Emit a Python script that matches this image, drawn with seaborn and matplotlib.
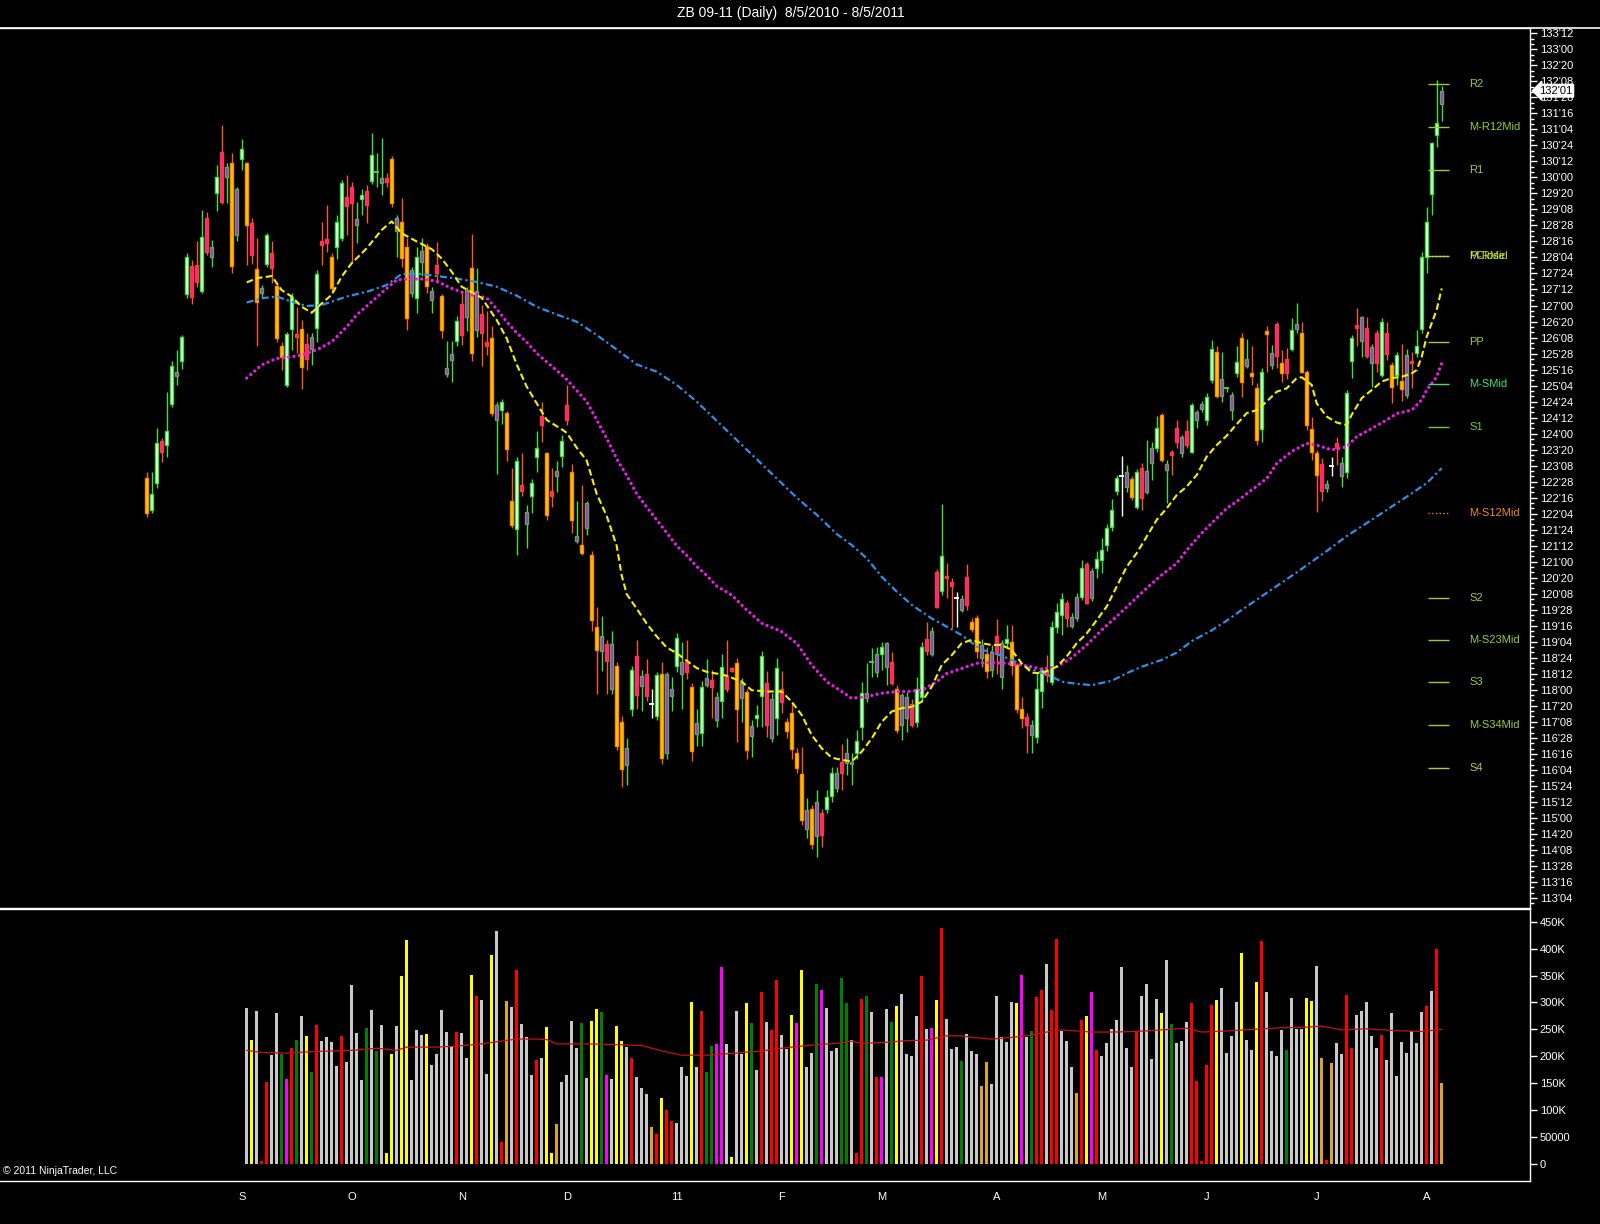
import matplotlib
matplotlib.use("Agg")
import matplotlib.pyplot as plt
import matplotlib.transforms as mtransforms
from matplotlib.lines import Line2D
import numpy as np
import pandas as pd
import seaborn as sns

# ---------------- data ----------------
title = "ZB 09-11 (Daily)  8/5/2010 - 8/5/2011"

opens = [
    122.95,122.20,122.84,123.83,123.73,124.69,125.35,125.71,127.27,127.93,
    127.95,127.35,129.04,128.13,129.63,130.60,130.00,130.33,128.64,130.42,
    130.33,128.93,127.85,127.30,127.97,128.24,127.46,126.04,125.15,126.44,
    126.34,126.44,126.10,125.97,126.47,128.50,128.55,128.13,128.36,128.57,
    129.53,129.78,128.89,129.49,129.69,129.92,130.10,129.86,129.98,130.42,
    128.75,128.96,128.36,127.29,127.17,128.03,128.39,127.13,127.95,127.23,
    125.40,125.73,126.16,127.03,126.73,127.88,126.42,126.79,126.14,126.23,
    124.32,124.56,124.49,122.43,121.76,122.80,121.89,122.54,123.45,124.41,
    123.54,122.65,123.00,123.48,124.68,123.10,121.48,121.39,121.79,121.15,
    119.46,118.90,119.07,118.03,118.55,117.25,116.25,117.55,118.79,118.09,
    118.38,117.64,117.38,118.38,116.51,117.86,118.55,118.38,118.64,118.07,
    116.96,116.99,118.12,118.23,117.29,117.74,118.33,118.49,118.62,117.80,
    117.94,116.92,117.35,117.86,118.17,116.88,117.35,118.03,117.24,117.45,
    116.51,116.02,114.75,115.21,114.58,115.11,115.22,115.52,115.71,116.32,
    116.28,116.26,116.51,117.14,117.80,118.65,118.42,118.83,118.54,118.66,
    118.02,117.17,117.33,117.66,117.25,117.84,119.20,118.83,120.77,120.31,
    120.65,120.52,120.14,119.87,120.65,119.59,119.69,118.75,118.85,118.46,
    119.27,118.31,119.09,119.13,118.58,117.54,117.37,116.94,116.89,117.98,
    118.45,118.19,119.46,119.75,120.04,119.50,119.67,120.17,120.95,120.14,
    120.85,121.04,121.39,121.81,122.66,122.99,122.74,122.93,122.29,123.19,
    122.64,123.32,123.66,124.44,123.15,123.56,124.12,123.55,124.05,123.58,
    124.33,124.57,124.33,125.26,125.90,124.89,125.05,124.55,125.43,126.23,
    125.58,125.43,125.06,124.10,126.37,125.61,126.57,125.65,125.74,125.97,
    126.44,126.35,125.45,124.10,123.54,123.29,122.72,123.22,123.77,123.00,
    123.11,125.69,126.54,126.18,126.47,125.65,126.36,125.37,126.36,125.61,
    125.37,125.24,124.90,125.71,125.89,126.44,128.14,129.61,130.99,131.72,
]
highs = [
    123.11,123.11,124.12,123.89,124.98,125.69,125.96,126.31,128.22,128.07,
    128.50,129.24,129.20,128.53,130.29,131.23,130.33,130.56,129.78,130.89,
    130.37,129.04,128.57,127.48,128.69,128.50,127.52,126.15,126.39,127.29,
    126.97,126.66,126.35,126.35,127.83,128.96,129.35,128.22,129.12,129.94,
    130.06,129.90,129.43,129.74,129.82,131.05,130.56,130.92,130.10,130.49,
    129.12,129.51,128.57,127.91,128.38,128.57,128.46,127.44,128.48,127.27,
    126.18,126.18,126.75,127.35,127.44,128.67,127.88,127.01,126.88,126.53,
    124.75,124.80,124.54,123.19,123.45,123.55,122.32,122.93,124.06,124.75,
    123.58,123.19,123.37,123.97,125.14,123.28,122.41,122.80,122.41,121.24,
    119.94,119.72,119.16,119.38,118.64,117.38,116.86,118.55,119.16,118.47,
    118.73,118.03,118.42,118.64,118.42,118.29,119.33,119.12,119.16,118.16,
    117.55,118.20,118.73,118.47,117.96,118.85,119.17,118.54,118.74,118.27,
    118.03,117.29,117.64,118.91,118.44,117.92,118.74,118.44,117.33,117.72,
    116.64,116.67,115.46,115.30,115.65,115.22,115.65,116.20,116.20,116.72,
    116.86,116.53,117.06,118.19,118.62,118.97,119.01,119.13,119.13,118.89,
    118.11,117.92,117.96,117.78,118.31,119.13,119.58,119.48,120.84,122.35,
    120.96,120.61,120.30,120.22,120.94,119.69,119.75,119.20,119.01,119.05,
    119.66,119.17,119.52,119.52,118.62,117.84,117.45,117.29,118.39,118.53,
    118.82,119.60,120.03,120.26,120.10,119.79,120.26,121.04,121.00,120.85,
    121.24,121.55,121.88,122.48,123.03,123.48,123.27,123.01,123.16,123.31,
    123.84,123.81,124.41,124.49,123.38,123.62,124.32,123.97,124.32,124.71,
    124.55,124.77,124.96,126.19,126.04,125.92,125.10,124.98,126.04,126.35,
    126.21,126.04,125.18,125.53,126.52,126.08,126.62,125.96,126.00,126.70,
    127.05,126.62,125.49,124.40,123.62,123.42,122.91,123.46,123.93,123.46,
    125.01,126.31,126.93,126.75,126.74,126.10,126.43,126.70,126.62,125.68,
    125.90,126.10,125.97,125.90,126.43,128.26,129.31,130.84,132.28,132.13,
]
lows = [
    122.05,122.13,122.72,123.34,123.46,124.63,125.14,125.51,127.17,127.04,
    127.44,127.29,128.18,127.91,129.22,129.38,129.39,127.77,128.50,130.17,
    127.95,127.97,126.04,127.21,127.91,127.52,126.15,125.49,125.10,125.96,
    125.88,125.04,125.49,125.61,126.15,127.95,128.26,127.29,128.10,128.52,
    128.65,127.99,128.46,129.12,128.93,129.85,129.78,129.59,129.78,129.30,
    128.14,127.91,126.43,127.21,126.82,127.68,127.29,126.83,127.53,126.23,
    125.32,125.21,126.05,126.07,126.40,125.69,126.27,125.58,125.84,124.41,
    123.06,124.23,123.37,121.80,121.15,122.54,121.33,122.15,123.11,123.80,
    121.98,122.28,122.63,123.21,124.19,121.67,121.44,121.15,121.63,119.38,
    117.90,118.44,117.90,117.90,116.60,115.73,115.78,117.38,117.55,117.51,
    117.73,117.34,117.29,116.27,116.38,117.51,118.42,117.55,118.25,116.34,
    116.69,116.69,118.07,117.34,117.14,117.33,117.96,118.42,116.78,117.25,
    116.39,116.43,117.14,117.14,116.90,116.78,116.94,117.45,116.86,116.39,
    116.04,114.83,114.52,114.27,114.09,114.33,115.11,115.38,115.61,115.65,
    116.00,115.77,116.39,116.82,117.72,118.31,118.31,118.46,118.11,118.11,
    116.98,116.82,117.02,117.14,117.14,117.76,118.81,118.78,119.91,120.22,
    120.14,119.44,119.48,119.83,119.87,119.36,118.74,118.54,118.28,118.31,
    118.38,118.02,118.97,118.35,117.45,117.10,116.53,116.53,116.75,117.57,
    118.19,118.11,119.32,119.28,119.48,119.44,119.60,120.11,120.01,120.09,
    120.61,120.73,121.24,121.71,122.56,122.06,122.64,122.45,122.23,122.21,
    122.59,122.91,123.58,123.34,122.38,123.03,123.66,123.46,123.66,123.54,
    124.12,124.51,124.20,125.18,124.83,124.75,124.98,124.32,125.33,124.86,
    125.53,125.14,123.73,123.81,125.45,125.51,125.53,125.22,125.29,125.94,
    126.35,125.41,124.08,123.38,122.17,122.41,122.64,123.00,123.27,122.76,
    122.95,125.30,126.04,125.80,125.76,125.08,125.45,125.33,125.72,124.71,
    125.14,124.77,124.83,125.06,125.80,126.35,127.75,129.12,130.71,131.31,
]
closes = [
    122.15,122.59,123.79,123.58,124.05,125.58,125.45,126.26,128.14,127.21,
    127.56,128.60,128.26,128.38,130.00,129.43,130.25,127.93,129.72,130.66,
    128.89,128.18,127.09,127.40,128.64,127.87,126.23,125.79,126.33,127.21,
    126.27,125.55,125.74,126.26,127.74,128.42,128.46,127.40,128.96,129.88,
    129.33,129.39,129.02,129.59,129.36,130.52,130.13,129.98,129.90,129.39,
    129.04,128.11,126.70,127.82,128.13,128.28,127.46,127.35,127.75,126.42,
    125.53,125.86,126.64,126.31,127.37,125.88,127.35,126.36,126.05,124.48,
    124.67,124.75,123.63,121.85,123.35,122.65,122.17,122.85,123.67,124.21,
    122.09,122.54,123.13,123.82,124.32,121.98,121.60,121.21,122.37,119.64,
    118.93,119.27,118.67,119.07,116.69,116.15,116.64,118.47,117.88,118.32,
    117.86,117.67,118.35,116.41,118.38,118.03,119.22,118.64,118.42,116.56,
    117.22,118.06,118.27,118.07,117.84,118.54,118.02,118.44,117.55,118.15,
    116.59,117.16,117.42,118.80,117.17,117.78,118.52,117.71,117.04,116.61,
    116.16,114.95,115.18,114.40,115.38,114.60,115.49,116.04,116.06,116.04,
    116.53,116.32,116.80,117.92,117.92,118.66,118.83,119.01,119.09,118.15,
    117.06,117.88,117.84,117.17,118.02,119.01,118.91,119.38,119.95,121.14,
    120.61,120.42,120.15,120.13,119.99,119.42,118.91,119.05,118.44,118.88,
    118.85,119.09,119.19,118.58,117.54,117.33,117.18,117.18,118.01,118.46,
    118.35,119.48,119.83,120.12,119.67,119.70,120.17,120.85,120.04,120.79,
    121.06,121.27,121.78,122.21,122.95,123.00,123.09,122.52,123.09,122.49,
    123.13,123.66,124.12,123.38,123.29,123.50,123.81,123.93,123.73,124.67,
    124.51,124.69,124.85,125.97,124.87,125.27,125.06,124.90,125.68,125.22,
    125.74,125.35,123.84,125.45,126.34,125.88,125.82,125.41,125.41,126.43,
    126.57,125.45,124.20,123.58,123.03,122.66,122.82,123.23,123.66,123.30,
    124.96,126.23,126.47,126.72,125.82,126.02,125.65,126.62,125.86,125.08,
    125.84,125.04,125.84,125.65,126.05,128.14,128.96,130.80,131.28,132.03,
]
# candle kind: W white-up, P purple-up, Y gold-down, M magenta-down, X white doji, G green doji
candle_kinds = (
    "YWWMWWPWWM" "MWMPWMPYPW" "YMYPWMYYWW" "MYMPWMMYWW" "MMPWMWGPMY"
    "PYYPWPYPMY" "PPWMPYPMMY" "PWYYWMPWWM" "YMPWMYPYPY" "YPMPYYPWMP"
    "MXWYPPWPMY" "PWPMPWMMYP" "YPWWMPWMYY" "YYPYPMWWPM" "PPWWPGPWPM"
    "YPPMWWMPMW" "MMXPMYYPYP" "MPWYYYMPWW" "MWWWMPPWMP" "WWWWWXPYWM"
    "PPWYPMMPMW" "PPWWYPGPWY" "PYYWYPMYMW" "PYYYYMPXMP" "WWMPMPMWMY"
    "WYPMWWWWWP"
)

# volume (thousands of contracts) from bar 20 onward
volume_start = 20
volumes_k = [
    289,230,284,6,153,202,281,204,158,215,
    230,275,238,171,258,228,236,227,182,238,
    190,332,244,156,252,286,209,258,21,205,
    256,349,416,156,249,240,242,184,205,286,
    246,220,246,243,197,351,312,305,167,388,
    433,41,303,292,360,260,236,165,193,196,
    254,20,74,153,165,266,216,262,159,266,
    288,282,165,157,256,228,217,196,162,142,
    130,69,56,123,101,80,76,181,163,301,
    181,284,171,219,223,365,223,13,284,205,
    299,261,175,319,264,249,342,240,214,277,
    262,360,180,206,334,323,290,209,215,346,
    299,230,21,306,312,282,162,162,288,264,
    294,316,205,201,275,349,251,253,305,438,
    269,214,217,192,241,209,205,145,189,149,
    312,236,227,301,299,351,236,247,310,323,
    371,286,418,247,228,180,132,267,275,319,
    212,201,225,251,267,365,215,180,245,312,
    334,195,306,280,379,260,225,228,264,299,
    154,6,184,295,305,327,206,238,301,392,
    230,212,338,414,319,210,201,249,212,308,
    251,251,308,303,368,197,7,188,225,204,
    314,215,277,284,301,238,215,240,193,280,
    163,227,206,247,225,282,293,321,399,150,
]
volume_kinds = (
    "WYWRRWWGMR" "GWYGRWWWWR" "WWWWGWGWYY" "WYYWWWYWWW" "WWRWWYRWWY"
    "WROWRWWWRW" "YYOWWWWGWY" "YGMWYYWRWW" "WORYRRWWWY" "WRGGMMWYWW"
    "YGWRWRRWWY" "MYWWGMWWWG" "GWRRGWRMWG" "YWWWWRWMYR" "WWWGWWWOOW"
    "WWWWYMWGRR" "WRRWWWORYM" "RWWWWWWWRW" "WWWYWGWWWR" "RRRRYWWWWY"
    "WWYRWWWWGW" "WWYYWOROWW" "RRWWWWWRWW" "WWWWWWRWRO"
)

# moving averages (bar index, value)
fast_ma_idx = [20,22,25,27,29,31,33,35,37,39,41,44,47,49,51,54,57,59,61,63,67,70,72,74,76,78,80,
               83,84,86,88,90,92,94,95,96,98,100,102,104,106,108,110,112,114,116,119,121,124,127,
               129,131,133,135,137,139,141,143,145,147,149,151,153,155,157,159,161,163,165,167,169,
               171,173,175,177,179,182,184,186,188,190,192,194,196,198,200,202,204,206,208,210,212,
               214,216,218,220,222,224,226,228,230,231,233,234,236,238,240,241,243,245,247,249,251,
               253,254,255,256,258,259]
fast_ma_val = [127.54,127.64,127.69,127.36,127.21,126.97,126.83,127.05,127.25,127.68,127.99,128.34,
               128.77,128.97,128.69,128.50,128.32,128.10,127.79,127.44,127.18,126.66,126.23,125.62,
               125.10,124.71,124.32,124.10,124.02,123.67,123.37,122.59,122.07,121.37,120.68,120.24,
               119.90,119.55,119.25,118.99,118.86,118.68,118.51,118.42,118.38,118.33,118.19,117.99,
               117.96,117.96,117.72,117.41,116.94,116.63,116.41,116.36,116.32,116.55,116.86,117.25,
               117.49,117.57,117.60,117.72,118.07,118.58,118.81,119.09,119.17,119.09,119.05,119.05,
               118.93,118.62,118.40,118.39,118.54,118.78,119.09,119.32,119.63,119.95,120.42,120.88,
               121.20,121.59,121.98,122.25,122.56,122.76,123.03,123.46,123.73,123.95,124.22,124.48,
               124.55,124.75,124.98,125.06,125.30,125.32,125.14,124.71,124.40,124.26,124.20,124.44,
               124.83,125.02,125.22,125.30,125.33,125.41,125.49,125.80,126.27,126.90,127.40]
mid_ma_idx = [20,23,26,29,31,34,37,40,42,45,48,50,52,55,58,61,64,68,70,72,74,76,78,81,84,86,88,90,
              92,94,96,98,100,102,104,106,108,110,112,114,117,120,123,127,130,133,136,139,141,144,
              147,150,152,155,158,160,163,166,169,172,175,177,179,182,185,188,191,194,197,200,203,
              206,208,211,214,216,218,221,224,226,229,232,234,237,240,242,245,248,250,253,255,256,
              258,259]
mid_ma_val = [125.30,125.61,125.76,125.80,125.84,125.96,126.15,126.50,126.78,127.09,127.40,127.60,
              127.62,127.62,127.57,127.40,127.27,127.18,126.92,126.62,126.36,126.14,125.88,125.58,
              125.27,125.01,124.75,124.32,123.89,123.41,123.02,122.59,122.28,121.98,121.68,121.37,
              121.15,120.89,120.68,120.43,120.22,119.87,119.56,119.36,119.09,118.58,118.19,117.96,
              117.80,117.84,117.92,117.96,117.96,117.99,118.19,118.38,118.50,118.62,118.64,118.62,
              118.58,118.54,118.48,118.54,118.75,119.05,119.40,119.72,120.05,120.38,120.69,120.96,
              121.27,121.67,122.02,122.25,122.41,122.68,122.95,123.30,123.58,123.77,123.73,123.62,
              123.69,123.93,124.12,124.32,124.47,124.55,124.79,125.02,125.33,125.65]
slow_ma_idx = [20,23,26,29,32,35,37,40,44,48,51,55,58,62,66,70,74,78,82,86,90,94,98,102,106,110,114,
               118,122,126,130,134,138,141,144,147,150,153,157,160,163,167,169,173,177,181,183,186,
               189,193,196,199,203,206,209,213,216,219,225,230,236,240,245,249,253,256,259]
slow_ma_val = [127.07,127.17,127.21,127.09,126.99,127.01,127.09,127.21,127.32,127.48,127.74,127.74,
               127.69,127.63,127.55,127.44,127.23,126.97,126.79,126.62,126.31,125.97,125.62,125.45,
               125.14,124.75,124.30,123.85,123.40,122.95,122.50,122.10,121.65,121.39,121.08,120.65,
               120.30,119.99,119.67,119.48,119.28,118.93,118.89,118.70,118.48,118.31,118.19,118.14,
               118.11,118.21,118.39,118.54,118.70,118.87,119.14,119.39,119.62,119.87,120.35,120.75,
               121.25,121.60,121.98,122.29,122.60,122.84,123.19]
vol_ma_idx = [20,23,28,34,41,46,50,52,58,62,66,70,74,78,80,82,88,93,99,103,107,112,118,123,127,132,
              138,141,143,148,152,156,160,163,165,169,173,176,180,183,189,193,198,203,208,211,216,
              223,227,232,235,239,244,249,255,259]
vol_ma_k = [211,207,206,209,211,215,211,217,217,219,222,227,232,232,231,223,223,222,220,210,202,202,
            206,210,215,220,224,228,224,226,229,230,238,238,235,232,235,238,245,249,245,245,246,249,
            252,245,247,251,253,254,256,249,251,248,246,250]

# pivot levels on the right
pivot_levels = [132.18, 131.17, 130.17, 128.16, 128.16, 126.15, 125.16, 124.15,
                122.15, 120.16, 119.16, 118.18, 117.18, 116.18]
pivot_names = ["R2", "M-R12Mid", "R1", "M-RMid", "PClose", "PP", "M-SMid", "S1",
               "M-S12Mid", "S2", "M-S23Mid", "S3", "M-S34Mid", "S4"]
last_price_label = "132'01"
last_price = 132.031

# month markers along the time axis (bar index, label)
month_idx = [19, 41, 63, 84, 106, 127, 147, 170, 191, 212, 234, 256]
month_labels = ["S", "O", "N", "D", "11", "F", "M", "A", "M", "J", "J", "A"]

copyright_text = "\u00a9 2011 NinjaTrader, LLC"

# ---------------- styling ----------------
sns.set_theme(style="dark")
plt.rcParams["font.family"] = ["Liberation Sans", "DejaVu Sans"]
plt.rcParams.update({
    "figure.facecolor": "black", "axes.facecolor": "black",
    "text.color": "white", "axes.edgecolor": "white",
    "xtick.color": "white", "ytick.color": "white",
    "axes.grid": False,
})

W, H = 1600, 1224
fig = plt.figure(figsize=(W / 100, H / 100), dpi=100, facecolor="black")
ax = fig.add_axes([0, 1 - 908 / H, 1530 / W, 880 / H])
axv = fig.add_axes([0, 1 - 1181 / H, 1530 / W, 272 / H])

x0, x1 = -29.34, 276.66
for a in (ax, axv):
    a.set_facecolor("black")
    a.set_xlim(x0, x1)
    a.grid(False)
    for s in ("top", "right", "bottom"):
        a.spines[s].set_color("white")
        a.spines[s].set_linewidth(1.0)
    a.spines["left"].set_visible(False)

# ---------------- candles ----------------
idx = np.arange(len(closes))
o = np.array(opens); h = np.array(highs); l = np.array(lows); c = np.array(closes)
kinds = np.array(list(candle_kinds))

fill_map = {"W": "#f2fff2", "P": "#a03cc0", "Y": "#ffcc00", "M": "#ff1e9c"}
edge_map = {"W": "#3ee03e", "P": "#6c9c6c", "Y": "#ff8a00", "M": "#ff3a3a"}
wick_map = {"W": "#3ee03e", "P": "#3ee03e", "Y": "#ff5a1e", "M": "#ff5a1e",
            "X": "#ffffff", "G": "#3ee03e"}

ax.vlines(idx, l, h, colors=[wick_map[k] for k in kinds], linewidth=1.0, zorder=3)
body = np.isin(kinds, ["W", "P", "Y", "M"])
bottoms = np.minimum(o, c)[body]
heights = np.maximum(np.abs(c - o)[body], 0.06)
ax.bar(idx[body], heights, bottom=bottoms, width=0.7,
       color=[fill_map[k] for k in kinds[body]],
       edgecolor=[edge_map[k] for k in kinds[body]], linewidth=1.0, zorder=4)
doji = ~body
ax.hlines(c[doji], idx[doji] - 0.45, idx[doji] + 0.45,
          colors=[wick_map[k] for k in kinds[doji]], linewidth=1.3, zorder=4)

# ---------------- moving averages ----------------
sns.lineplot(x=slow_ma_idx, y=slow_ma_val, ax=ax, color="#2f8fe8", linewidth=1.6,
             linestyle=(0, (3.2, 1.4, 1.0, 1.4)), estimator=None, errorbar=None, zorder=5)
sns.lineplot(x=mid_ma_idx, y=mid_ma_val, ax=ax, color="#e81ee8", linewidth=2.4,
             linestyle=(0, (0.01, 1.6)), dash_capstyle="round",
             estimator=None, errorbar=None, zorder=5)
sns.lineplot(x=fast_ma_idx, y=fast_ma_val, ax=ax, color="#f4f000", linewidth=1.5,
             linestyle=(0, (3.2, 1.6)), estimator=None, errorbar=None, zorder=6)

# ---------------- pivots ----------------
pivot_colors = {"R2": "#9acd32", "M-R12Mid": "#9acd32", "R1": "#9acd32", "M-RMid": "#9acd32",
                "PClose": "#d8e800", "PP": "#9acd32", "M-SMid": "#3ee07a",
                "S1": "#6ccd32", "M-S12Mid": "#f08a10", "S2": "#9acd32", "M-S23Mid": "#9acd32",
                "S3": "#9acd32", "M-S34Mid": "#9acd32", "S4": "#b4cd32"}
for lvl, name in zip(pivot_levels, pivot_names):
    col = pivot_colors[name]
    ls = ":" if name in ("PClose", "M-S12Mid") else "-"
    ax.hlines(lvl, 256.2, 260.4, colors=col, linewidth=1.0, linestyles=ls, zorder=7)
    ax.text(264.5, lvl, name, color=col, fontsize=8, ha="left", va="center", zorder=8)

# ---------------- price axis ----------------
ax.set_ylim(112.89, 133.499)
major = np.arange(113.125, 133.4, 0.375)
def fmt32(v):
    whole = int(np.floor(v + 1e-9))
    t = int(round((v - whole) * 32))
    return f"{whole}'{t:02d}"
ax.yaxis.tick_right()
ax.set_yticks(major)
ax.set_yticklabels([fmt32(v) for v in major])
ax.set_yticks(np.arange(112.875 + 0.125, 133.5, 0.125), minor=True)
ax.tick_params(axis="y", which="major", direction="out", length=5, width=1, colors="white",
               labelsize=8, pad=2)
ax.tick_params(axis="y", which="minor", direction="out", length=3, width=1, colors="white")
ax.tick_params(axis="x", which="both", bottom=False, labelbottom=False)
ax.set_xlabel(""); ax.set_ylabel("")

trans = mtransforms.blended_transform_factory(ax.transAxes, ax.transData)
ax.text(1.0 + 9 / 1530, last_price, last_price_label, transform=trans, color="black",
        fontsize=8, ha="left", va="center", zorder=10, clip_on=False,
        bbox=dict(boxstyle="larrow,pad=0.12", fc="white", ec="white"))

# ---------------- volume ----------------
vidx = np.arange(volume_start, volume_start + len(volumes_k))
vol = np.array(volumes_k) * 1000.0
vcol_map = {"W": "#c8c8c8", "Y": "#ffff00", "R": "#ff0000", "G": "#008000",
            "M": "#ff00ff", "O": "#daa520"}
axv.bar(vidx, vol, width=0.55, color=[vcol_map[k] for k in volume_kinds], linewidth=0, zorder=3)
sns.lineplot(x=vol_ma_idx, y=np.array(vol_ma_k) * 1000.0, ax=axv, color="#c81010",
             linewidth=0.9, estimator=None, errorbar=None, zorder=4)
axv.set_ylim(-31600, 473500)
vt = np.arange(0, 450001, 50000)
axv.yaxis.tick_right()
axv.set_yticks(vt)
axv.set_yticklabels(["0" if v == 0 else ("50000" if v == 50000 else f"{v // 1000}K") for v in vt])
axv.tick_params(axis="y", direction="out", length=5, width=1, colors="white", labelsize=8, pad=2)
axv.set_xticks(month_idx)
axv.set_xticklabels(month_labels)
axv.tick_params(axis="x", direction="out", length=5, width=1, colors="white", labelsize=8, pad=3)
axv.set_xlabel(""); axv.set_ylabel("")

# ---------------- frame and texts ----------------
fig.add_artist(Line2D([0, 1], [1 - 27.5 / H] * 2, color="white", linewidth=1.2,
                      transform=fig.transFigure))
fig.text(791 / W, 1 - 13 / H, title, color="white", fontsize=10, ha="center", va="center")
fig.text(3 / W, 1 - 1171 / H, copyright_text, color="white", fontsize=7.5, ha="left", va="center")

fig.savefig("out.png", dpi=100, facecolor="black")
